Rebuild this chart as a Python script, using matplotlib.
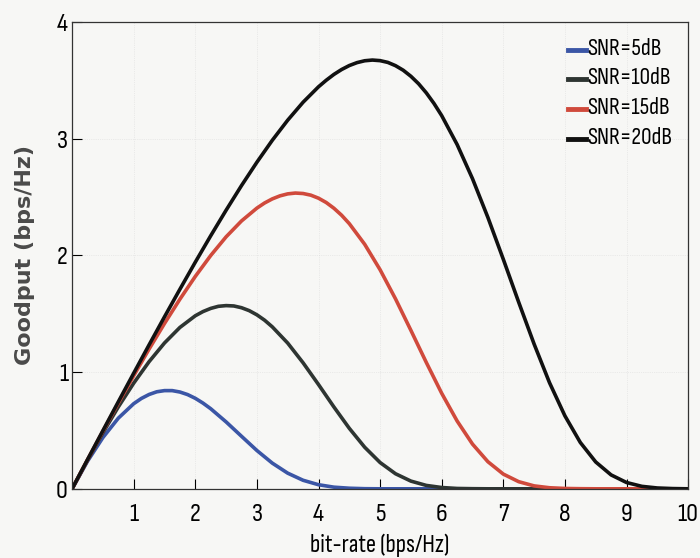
import matplotlib
matplotlib.use("Agg")
import matplotlib.pyplot as plt
from matplotlib import font_manager

# narrow sans face, the scan uses something like Arial Narrow
wanted = ['Liberation Sans Narrow', 'Arial Narrow', 'Sofia Sans Condensed', 'Roboto Condensed',
          'Open Sans Condensed', 'Sofia Sans Semi Condensed', 'Encode Sans Condensed']
regular = {}
for f in font_manager.fontManager.ttflist:
    if f.weight in (400, 'normal', 'regular') and f.style == 'normal':
        regular.setdefault(f.name, f.fname)
fp = font_manager.FontProperties(family='Liberation Sans')
for w in wanted:
    if w in regular:
        fp = font_manager.FontProperties(fname=regular[w])
        break

############## data
rate5 = [0, 0.25, 0.5, 0.75, 1, 1.125, 1.25, 1.375, 1.5, 1.625, 1.75, 1.875, 2, 2.125,
         2.25, 2.5, 2.75, 3, 3.25, 3.5, 3.75, 4, 4.25, 4.5, 4.75, 5, 5.5, 6, 7, 8, 9, 10]
snr5 = [0, 0.236, 0.439, 0.605, 0.729, 0.774, 0.808, 0.831, 0.841, 0.841, 0.829, 0.807,
        0.775, 0.734, 0.686, 0.573, 0.450, 0.328, 0.220, 0.134, 0.073, 0.035, 0.014, 0.005,
        0.001, 0, 0, 0, 0, 0, 0, 0]

rate10 = [0, 0.25, 0.5, 0.75, 1, 1.25, 1.5, 1.75, 2, 2.125, 2.25, 2.375, 2.5, 2.625, 2.75,
          2.875, 3, 3.125, 3.25, 3.5, 3.75, 4, 4.25, 4.5, 4.75, 5, 5.25, 5.5, 5.75, 6,
          6.25, 6.5, 6.75, 7, 8, 9, 10]
snr10 = [0, 0.245, 0.480, 0.701, 0.905, 1.089, 1.249, 1.382, 1.482, 1.518, 1.545, 1.563,
         1.569, 1.566, 1.551, 1.526, 1.490, 1.444, 1.387, 1.248, 1.079, 0.893, 0.701, 0.518,
         0.356, 0.225, 0.129, 0.066, 0.029, 0.011, 0.003, 0.001, 0, 0, 0, 0, 0]

rate15 = [0, 0.25, 0.5, 0.75, 1, 1.25, 1.5, 1.75, 2, 2.25, 2.5, 2.75, 3, 3.125, 3.25,
          3.375, 3.5, 3.625, 3.75, 3.875, 4, 4.125, 4.25, 4.375, 4.5, 4.75, 5, 5.25, 5.5,
          5.75, 6, 6.25, 6.5, 6.75, 7, 7.25, 7.5, 7.75, 8, 8.25, 8.5, 9, 10]
snr15 = [0, 0.249, 0.494, 0.734, 0.969, 1.197, 1.416, 1.624, 1.819, 1.998, 2.158, 2.294,
         2.404, 2.448, 2.483, 2.509, 2.526, 2.533, 2.529, 2.515, 2.489, 2.452, 2.403, 2.343,
         2.271, 2.094, 1.876, 1.627, 1.357, 1.082, 0.818, 0.581, 0.383, 0.232, 0.126, 0.061,
         0.025, 0.009, 0.003, 0.001, 0, 0, 0]

rate20 = [0, 0.25, 0.5, 0.75, 1, 1.25, 1.5, 1.75, 2, 2.25, 2.5, 2.75, 3, 3.25, 3.5, 3.75,
          4, 4.125, 4.25, 4.375, 4.5, 4.625, 4.75, 4.875, 5, 5.125, 5.25, 5.375, 5.5, 5.625,
          5.75, 5.875, 6, 6.25, 6.5, 6.75, 7, 7.25, 7.5, 7.75, 8, 8.25, 8.5, 8.75, 9, 9.25,
          9.5, 9.75, 10]
snr20 = [0, 0.250, 0.498, 0.745, 0.990, 1.233, 1.473, 1.709, 1.941, 2.167, 2.386, 2.597,
         2.797, 2.985, 3.157, 3.311, 3.443, 3.499, 3.549, 3.591, 3.625, 3.650, 3.666, 3.672,
         3.667, 3.652, 3.624, 3.585, 3.533, 3.469, 3.391, 3.300, 3.196, 2.949, 2.656, 2.324,
         1.966, 1.598, 1.240, 0.909, 0.625, 0.397, 0.230, 0.119, 0.054, 0.021, 0.007, 0.002,
         0]

labels = ['SNR=5dB', 'SNR=10dB', 'SNR=15dB', 'SNR=20dB']
colors = ['#3b56a6', '#2e3532', '#d04a3c', '#111111']

fig = plt.figure(figsize=(7, 5.58), dpi=100, facecolor='#f7f7f5')
ax = fig.add_axes([0.103, 0.124, 0.880, 0.837], facecolor='#f7f7f5')

series = [(rate5, snr5), (rate10, snr10), (rate15, snr15), (rate20, snr20)]
for (xs, ys), lab, c in zip(series, labels, colors):
    ax.plot(xs, ys, color=c, linewidth=2.6, label=lab)

ax.set_xlim(0, 10)
ax.set_ylim(0, 4)
ax.set_xticks(range(1, 11))
ax.set_yticks(range(0, 5))
ax.tick_params(direction='in', length=7, width=0.8, top=False, right=False)
ax.tick_params(axis='x', pad=10)
ax.tick_params(axis='y', pad=3)
for lab in ax.get_xticklabels() + ax.get_yticklabels():
    lab.set_fontproperties(fp)
    lab.set_fontsize(19)
for s in ax.spines.values():
    s.set_linewidth(0.9)
    s.set_color('#333333')
ax.grid(True, linestyle=':', linewidth=0.5, color='#cccccc', alpha=0.6)

ax.set_xlabel("bit-rate (bps/Hz)", fontproperties=fp, fontsize=18, labelpad=6)
ax.set_ylabel("Goodput (bps/Hz)", fontsize=16, fontweight='bold',
              family=['DejaVu Sans'], color='#4a4a4a', labelpad=15)

leg = ax.legend(loc='upper right', frameon=False, handlelength=1.3,
                handletextpad=0.1, labelspacing=0.62, borderaxespad=0.85,
                borderpad=0.3, prop=fp)
for t in leg.get_texts():
    t.set_fontsize(17)
for h in leg.legend_handles:
    h.set_linewidth(3.5)

plt.savefig("out.png", dpi=100, facecolor=fig.get_facecolor())
